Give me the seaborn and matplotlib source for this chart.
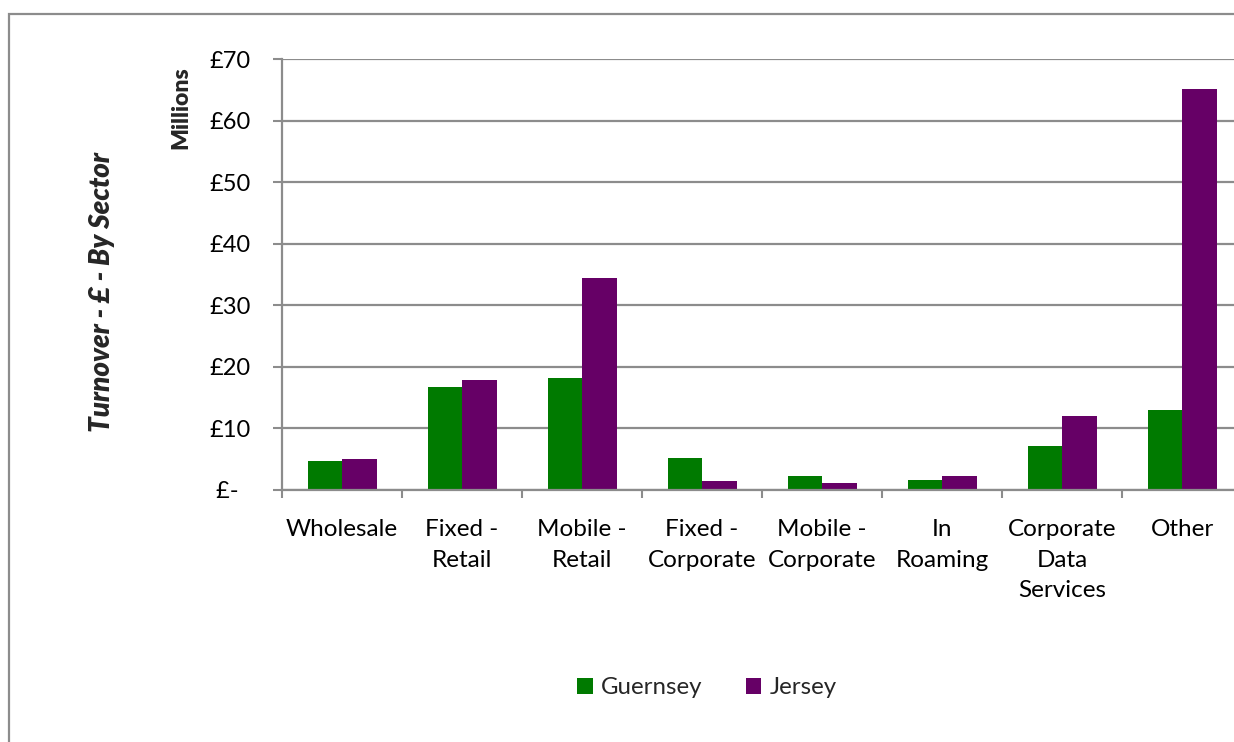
import matplotlib
matplotlib.use("Agg")
import matplotlib.pyplot as plt
from matplotlib.patches import Rectangle, Patch
from matplotlib.ticker import FixedLocator
import seaborn as sns
import pandas as pd

# Turnover by sector, £ millions
sectors = ["Wholesale", "Fixed -\nRetail", "Mobile -\nRetail", "Fixed -\nCorporate",
           "Mobile -\nCorporate", "In\nRoaming", "Corporate\nData\nServices", "Other"]
guernsey = [4.7, 16.7, 18.2, 5.25, 2.2, 1.55, 7.1, 13.0]
jersey = [5.0, 17.9, 34.5, 1.5, 1.2, 2.25, 12.0, 65.2]
islands = ["Guernsey", "Jersey"]
colors = ["#007A00", "#660066"]
y_ticks = [0, 10, 20, 30, 40, 50, 60, 70]
y_labels = ["£-  ", "£10", "£20", "£30", "£40", "£50", "£60", "£70"]

df = pd.DataFrame({
    "sector": sectors * 2,
    "island": ["Guernsey"] * len(sectors) + ["Jersey"] * len(sectors),
    "value": guernsey + jersey,
})

sns.set_theme(style="white")
plt.rcParams["font.family"] = ["Lato", "DejaVu Sans"]

W, H = 1234, 742
fig = plt.figure(figsize=(W / 100, H / 100), dpi=100)
fig.patch.set_facecolor("white")

def fx(px):
    return px / W

def fy(py):
    return 1 - py / H

# plot area runs past the right edge of the figure
ax = fig.add_axes([fx(282), fy(490), fx(1242) - fx(282), fy(59) - fy(490)])

sns.barplot(data=df, x="sector", y="value", hue="island", order=sectors,
            hue_order=islands, palette=colors, width=0.575, dodge=True,
            saturation=1, linewidth=0, legend=False, ax=ax)

ax.set_xlim(-0.5, len(sectors) - 0.5)
ax.set_ylim(0, 70)
ax.set_xlabel("")
ax.set_ylabel("")

grid_c = "#8C8C8C"
ax.set_yticks(y_ticks)
ax.set_yticklabels(y_labels)
ax.yaxis.grid(True, color=grid_c, linewidth=1.6)
ax.set_axisbelow(True)
ax.tick_params(axis="y", which="major", left=True, length=6.5, width=1.5,
               color=grid_c, pad=16, labelsize=17, labelcolor="#000000")

ax.xaxis.set_minor_locator(FixedLocator([i - 0.5 for i in range(len(sectors) + 1)]))
ax.tick_params(axis="x", which="major", bottom=False, length=0, pad=21,
               labelsize=17.5, labelcolor="#000000")
ax.tick_params(axis="x", which="minor", bottom=True, length=6, width=1.5,
               color=grid_c)
for lbl in ax.get_xticklabels():
    lbl.set_linespacing(1.56)
    lbl.set_verticalalignment("top")

for side in ["top", "right"]:
    ax.spines[side].set_visible(False)
for side in ["left", "bottom"]:
    ax.spines[side].set_color(grid_c)
    ax.spines[side].set_linewidth(1.6)

# outer chart border
fig.patches.append(Rectangle((fx(9), fy(H + 20)), fx(W + 40) - fx(9), fy(14) - fy(H + 20),
                             transform=fig.transFigure, fill=False,
                             edgecolor=grid_c, linewidth=1.6))

fig.text(fx(181), fy(66), "Millions", rotation=90, ha="center", va="top",
         fontsize=16.5, fontweight="heavy")
fig.text(fx(102), fy(292), "Turnover - £ - By Sector", rotation=90, ha="center",
         va="center", fontsize=20, fontweight="heavy", fontstyle="italic")

handles = [Patch(facecolor=c, edgecolor="none") for c in colors]
fig.legend(handles, islands, loc="center", bbox_to_anchor=(fx(707), fy(688)),
           ncol=2, frameon=False, fontsize=17.3, handlelength=0.65, handleheight=0.65,
           handletextpad=0.35, columnspacing=1.8)

fig.savefig("out.png", dpi=100, facecolor="white")
